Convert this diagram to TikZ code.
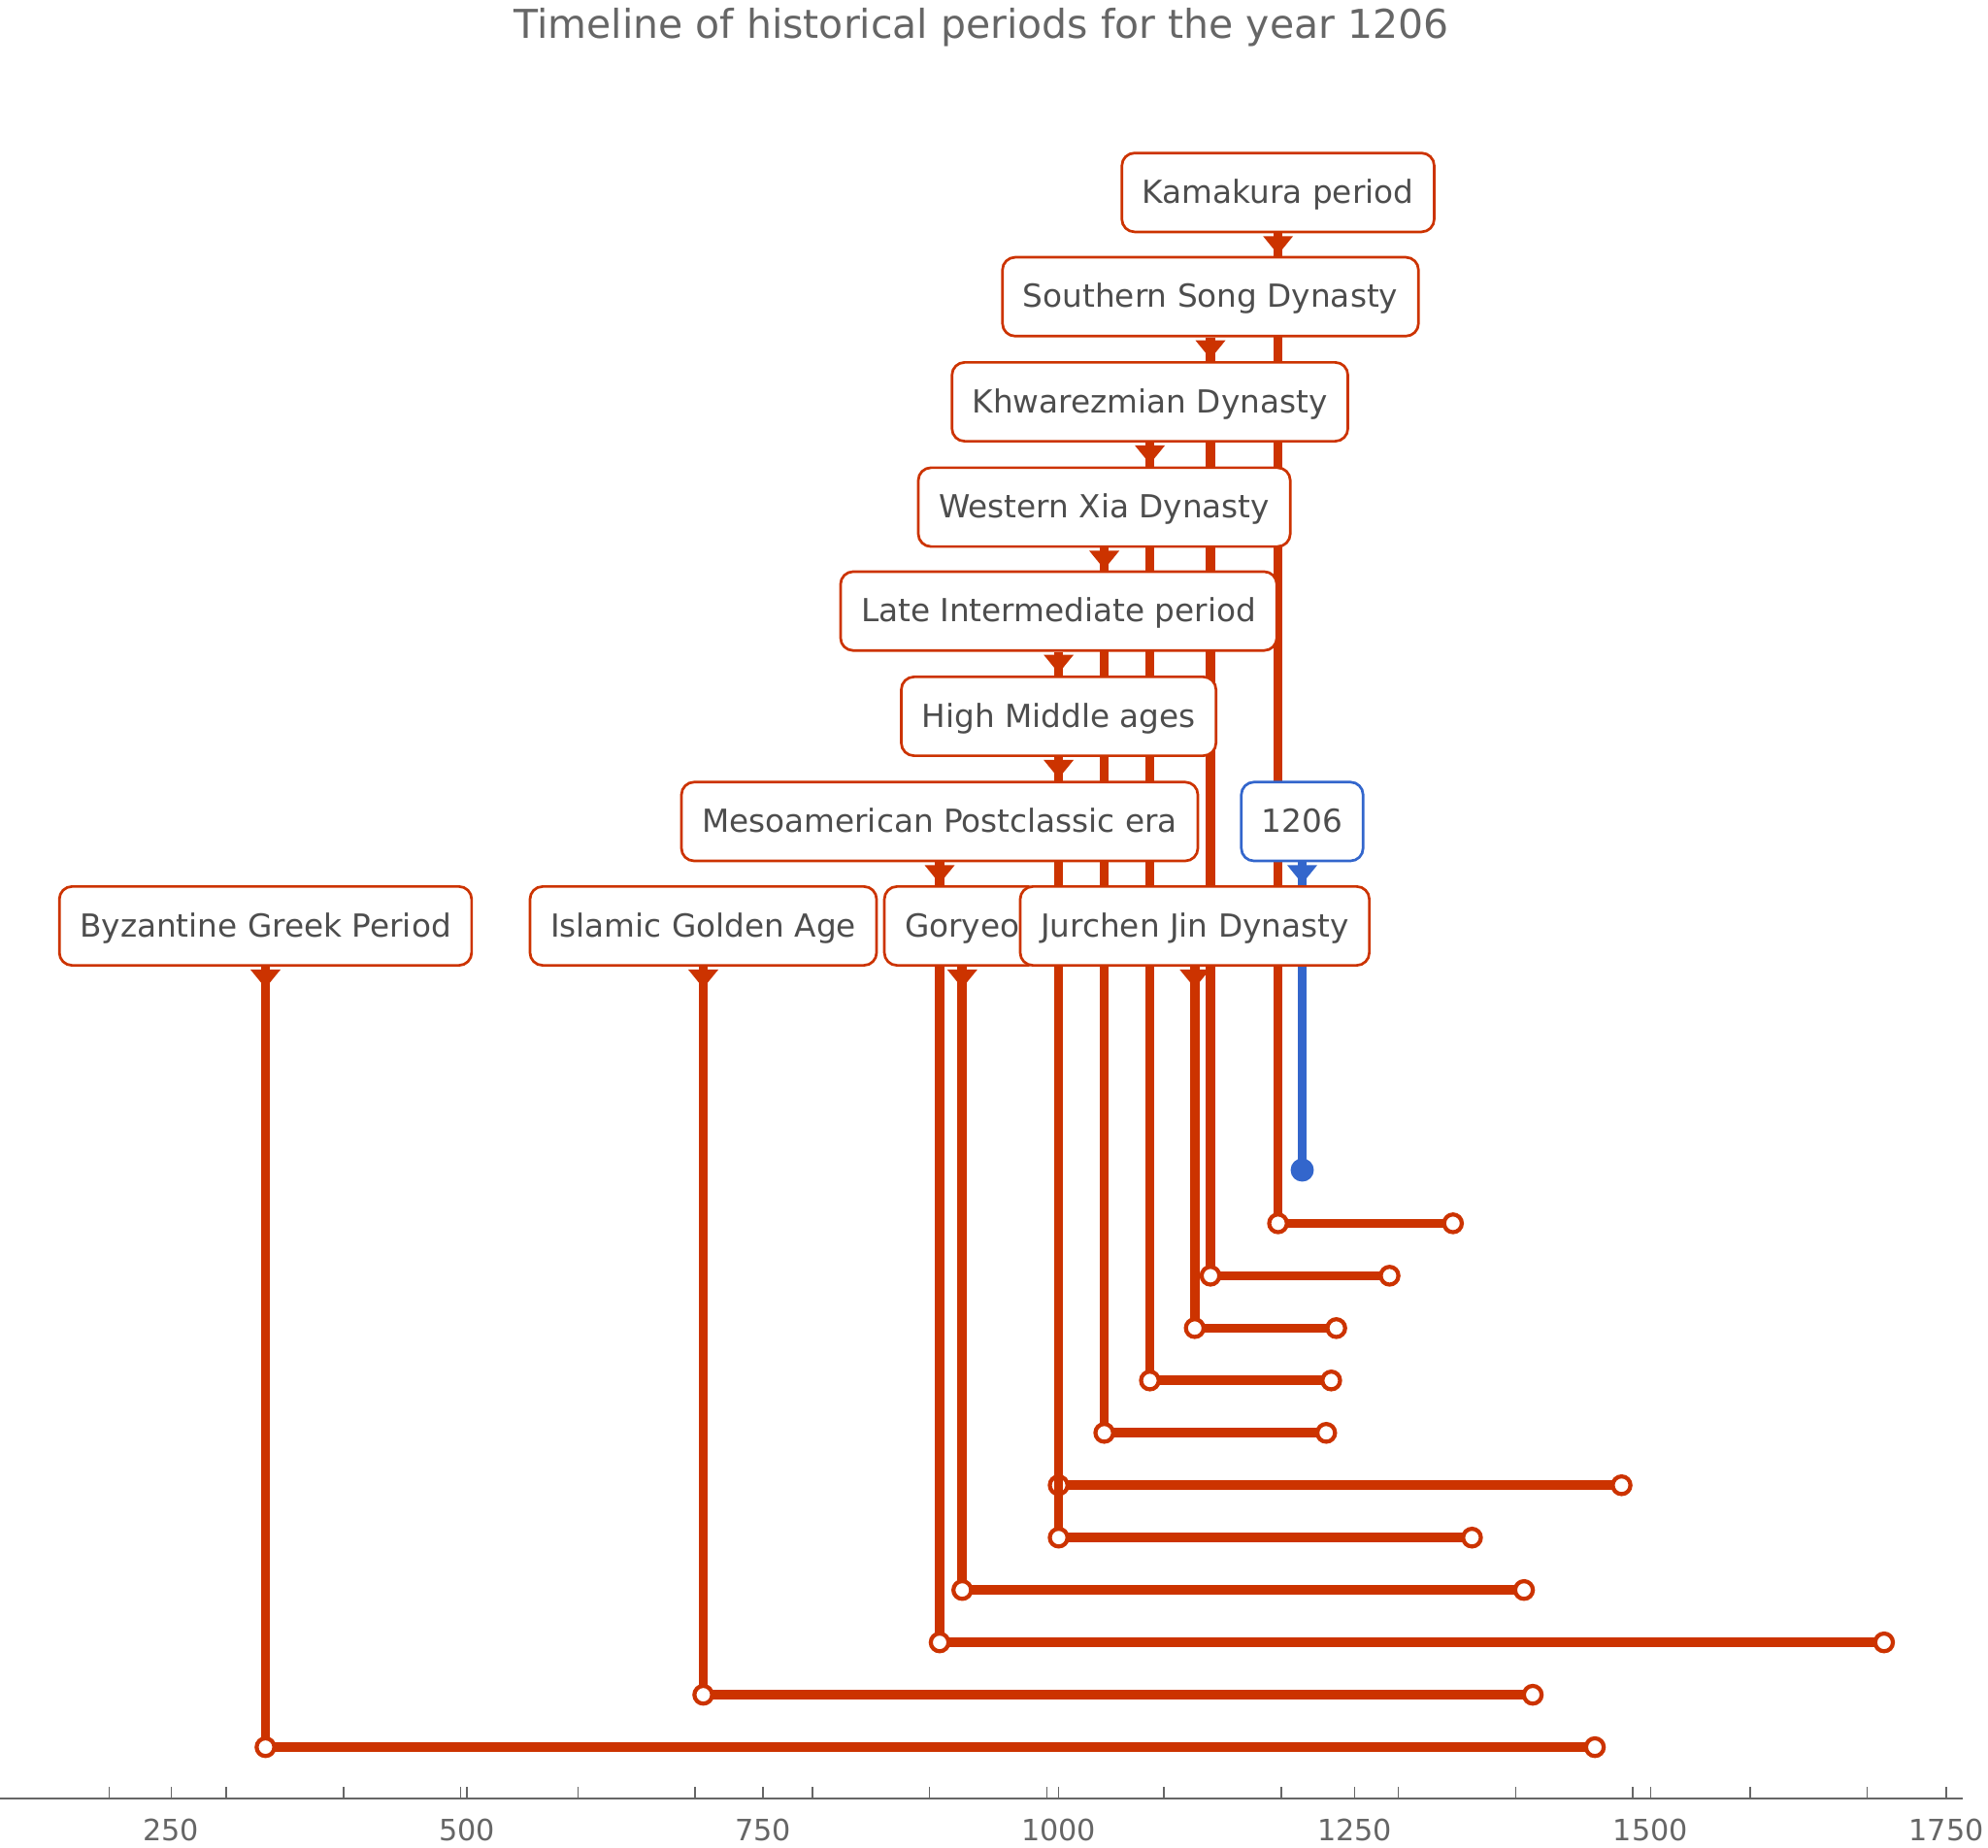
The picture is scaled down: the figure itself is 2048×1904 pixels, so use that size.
\documentclass[tikz,border=0pt]{standalone}
\usepackage{fontspec}
\setmainfont{DejaVu Sans}
\usetikzlibrary{backgrounds}

\definecolor{tlred}{RGB}{204,51,0}
\definecolor{tlblue}{RGB}{51,102,204}
\definecolor{tltext}{RGB}{77,77,77}
\definecolor{tlgray}{RGB}{102,102,102}

\tikzset{
  lbl/.style={draw=tlred, fill=white, line width=0.77pt, rounded corners=3.7pt,
    text=tltext, inner xsep=6pt, inner ysep=0pt, minimum height=23.1pt,
    text height=0.78em, text depth=0.14em,
    font=\fontsize{9.3}{11}\selectfont},
  period/.style={draw=tlred, line width=2.75pt},
  openend/.style={draw=tlred, fill=white, line width=1.2pt},
  axisline/.style={draw=tlgray, line width=0.6pt},
  ticklbl/.style={text=tlgray, font=\fontsize{8.6}{10}\selectfont},
}

\begin{document}
\begin{tikzpicture}[x=0.01cm, y=-0.01cm]
\useasboundingbox (0,0) rectangle (2048,1904);

\node[text=tlgray, anchor=base, font=\fontsize{11.65}{14}\selectfont] (title) at (1011,39.5)
  {Timeline of historical periods for the year 1206};

% labels, top row first
\node[lbl] (kam) at (1316.6,198.3) {Kamakura period};
\node[lbl] (song) at (1247,305.7) {Southern Song Dynasty};
\node[lbl] (khw) at (1184.6,414) {Khwarezmian Dynasty};
\node[lbl] (xia) at (1137.6,522.5) {Western Xia Dynasty};
\node[lbl] (lip) at (1090.6,629.6) {Late Intermediate period};
\node[lbl] (hma) at (1090.6,738) {High Middle ages};
\node[lbl] (meso) at (968,846.4) {Mesoamerican Postclassic era};
\node[lbl, draw=tlblue] (now) at (1341.5,846.4) {1206};
\node[lbl] (byz) at (273.5,954) {Byzantine Greek Period};
\node[lbl] (isl) at (724.5,954) {Islamic Golden Age};
\node[lbl] (gor) at (991.3,954) {Goryeo};
\node[lbl] (jin) at (1230.8,954) {Jurchen Jin Dynasty};

% arrow heads
\foreach \n in {kam,song,khw,xia,lip,hma,meso,byz,isl,gor,jin}
  \fill[tlred] (\n.south) ++(-15.5,3) -- ++(31,0) -- ++(-15.5,19) -- cycle;
\fill[tlblue] (now.south) ++(-15.5,3) -- ++(31,0) -- ++(-15.5,19) -- cycle;

% bars behind the labels
\begin{scope}[on background layer]
  \foreach \n/\row/\xe in {kam/0/1496.8, song/1/1431.5, jin/2/1376.6, khw/3/1371.4,
      xia/4/1366.2, lip/5/1670.5, hma/6/1516.4, gor/7/1570, meso/8/1940.9,
      isl/9/1579, byz/10/1643} {
    \pgfmathsetmacro\yy{1260.4+53.97*\row}
    \coordinate (\n-s) at (\n |- 0,\yy);
    \coordinate (\n-e) at (\xe,\yy);
    \draw[period] (\n) -- (\n-s) -- (\n-e);
    \draw[openend] (\n-s) circle (2.6pt) (\n-e) circle (2.6pt);
  }
  \coordinate (now-s) at (now |- 0,1205.5);
  \draw[period, draw=tlblue] (now) -- (now-s);
  \fill[tlblue] (now-s) circle (3.4pt);
\end{scope}

% axis
\draw[axisline] (0,1853) -- (2022,1853);
\foreach \x in {112.3,233,353.8,474.5,595.3,716,836.8,957.5,1078.3,1199,1319.8,
    1440.5,1561.3,1682,1802.8,1923.5}
  \draw[draw=tlgray, line width=0.4pt] (\x,1853) -- ++(0,-12);
\foreach \v/\x in {250/176.3, 500/481.1, 750/785.9, 1000/1090.7, 1250/1395.5,
    1500/1700.3, 1750/2005.1} {
  \draw[draw=tlgray, line width=0.4pt] (\x,1853) -- ++(0,-12);
  \node[ticklbl] (t\v) at (\x,1885) {\v};
}
\end{tikzpicture}
\end{document}
